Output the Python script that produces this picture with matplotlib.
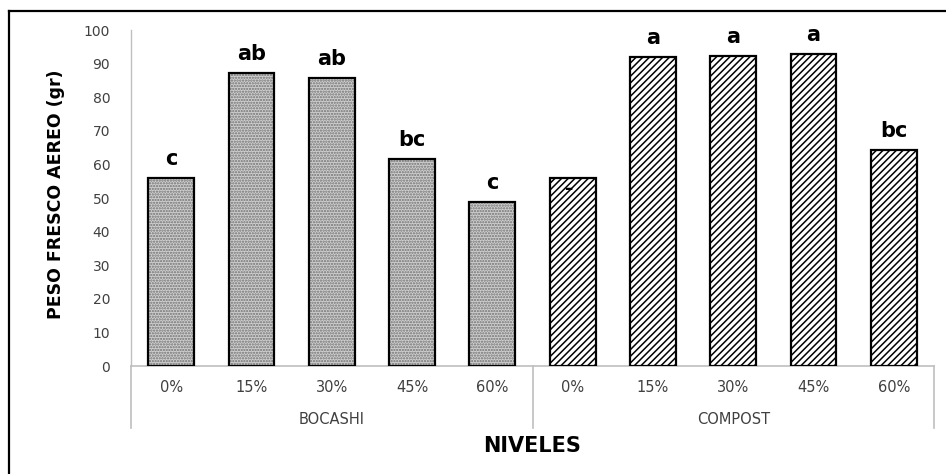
import matplotlib
matplotlib.use('Agg')
import matplotlib.pyplot as plt
from matplotlib.lines import Line2D
from matplotlib.transforms import blended_transform_factory, offset_copy

plt.rcParams['font.family'] = ['DejaVu Sans']
plt.rcParams['hatch.linewidth'] = 1.1

# datos
niveles = ['0%', '15%', '30%', '45%', '60%']
grupos = ['BOCASHI', 'COMPOST']
bocashi = [56.0, 87.2, 85.6, 61.7, 48.7]
compost = [56.0, 92.0, 92.3, 93.0, 64.3]
letras_bocashi = ['c', 'ab', 'ab', 'bc', 'c']
letras_compost = ['–', 'a', 'a', 'a', 'bc']

W, H = 946, 474
fig = plt.figure(figsize=(W / 100, H / 100), dpi=100)

# ejes en pixeles
x0, x1 = 131, 934
y0, y1 = 366, 30
ax = fig.add_axes([x0 / W, (H - y0) / H, (x1 - x0) / W, (y0 - y1) / H])
ax.set_xlim(-0.5, 9.5)
ax.set_ylim(0, 100)

xb = list(range(len(bocashi)))
xc = [i + len(bocashi) for i in range(len(compost))]
ancho = 0.57

# bocashi: punteado fino
ax.bar(xb, bocashi, ancho, color='#d0d0d0', edgecolor='#707070', hatch='......', linewidth=0, zorder=2)
ax.bar(xb, bocashi, ancho, fill=False, edgecolor='black', linewidth=1.6, zorder=3)
# compost: rayado diagonal
ax.bar(xc, compost, ancho, color='white', edgecolor='black', hatch='/////', linewidth=0, zorder=2)
ax.bar(xc, compost, ancho, fill=False, edgecolor='black', linewidth=1.6, zorder=3)

# letras de significancia
for xs, vals, letras in [(xb, bocashi, letras_bocashi), (xc, compost, letras_compost)]:
    for x, v, l in zip(xs, vals, letras):
        if l == '–':
            # la letra queda tapada por la barra, solo se ve un trazo
            tr = offset_copy(ax.transData, fig=fig, x=-4, y=-11, units='dots')
            ax.text(x, v, l, transform=tr, ha='center', va='center', fontsize=12,
                    fontweight='bold', zorder=4)
        else:
            tr = offset_copy(ax.transData, fig=fig, x=0, y=13, units='dots')
            ax.text(x, v, l, transform=tr, ha='center', va='baseline', fontsize=15,
                    fontweight='bold')

# ejes
for s in ['top', 'right', 'bottom']:
    ax.spines[s].set_visible(False)
ax.spines['left'].set_color('#bfbfbf')
ax.spines['left'].set_linewidth(1.0)
ax.axhline(0, color='#bfbfbf', linewidth=1.2, zorder=1, clip_on=False)
ax.set_yticks(range(0, 101, 10))
ax.tick_params(axis='y', length=0, pad=15, labelsize=10, labelcolor='#404040')
ax.set_xticks([])

bt = blended_transform_factory(ax.transData, ax.transAxes)
ah = y0 - y1
for x, l in zip(xb + xc, niveles + niveles):
    ax.text(x, -21 / ah, l, transform=bt, ha='center', va='center', fontsize=10.5, color='#404040')
ax.text(2, -53 / ah, grupos[0], transform=bt, ha='center', va='center', fontsize=10.5, color='#404040')
ax.text(7, -53 / ah, grupos[1], transform=bt, ha='center', va='center', fontsize=10.5, color='#404040')
for xv in [-0.5, 4.5, 9.5]:
    ax.add_line(Line2D([xv, xv], [0, -62 / ah], transform=bt, color='#bfbfbf', linewidth=1.2,
                       clip_on=False))

ax.text(4.5, -80 / ah, 'NIVELES', transform=bt, ha='center', va='center', fontsize=15,
        fontweight='bold')
fig.text(56 / W, (H - 194) / H, 'PESO FRESCO AEREO (gr)', rotation=90, ha='center', va='center',
         fontsize=12.5, fontweight='bold')

# marco
fig.add_artist(Line2D([8.5 / W, 8.5 / W], [0, (H - 11) / H], color='black', linewidth=1.6))
fig.add_artist(Line2D([8.5 / W, 1], [(H - 11) / H, (H - 11) / H], color='black', linewidth=1.6))

fig.savefig('out.png', dpi=100)
